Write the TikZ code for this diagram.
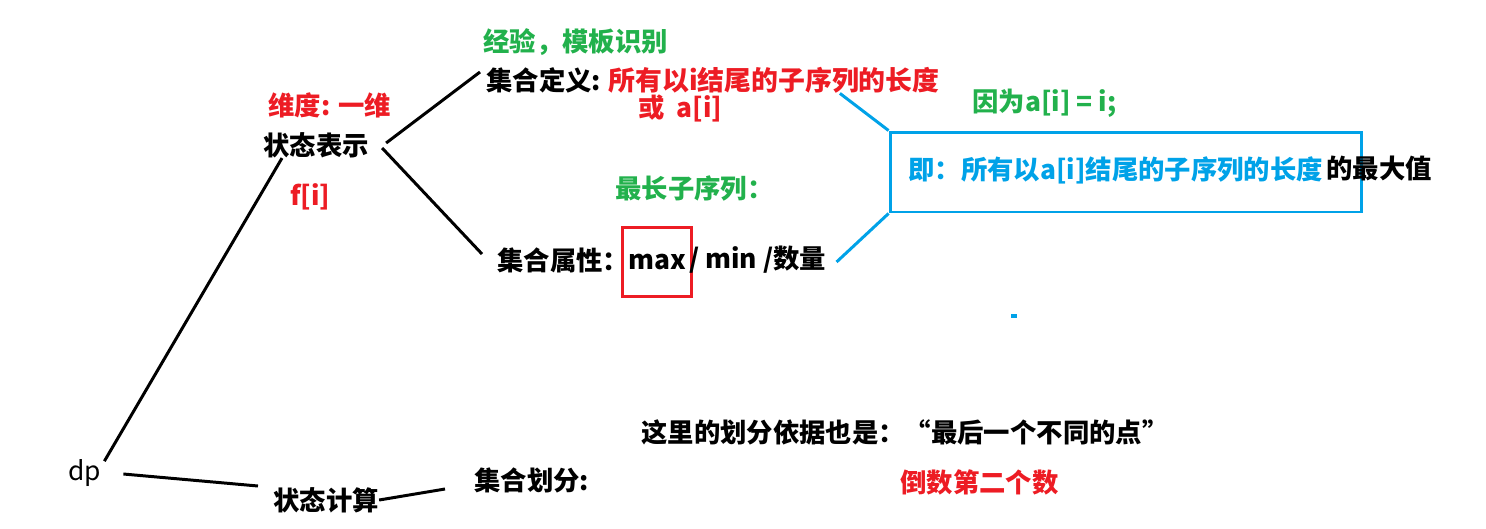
\documentclass[tikz,border=0pt]{standalone}
\usepackage{fontspec}
\newfontfamily\cjk{Noto Sans CJK SC}
\definecolor{pred}{RGB}{237,28,36}
\definecolor{pgreen}{RGB}{34,177,76}
\definecolor{pblue}{RGB}{0,162,232}

\begin{document}
\begin{tikzpicture}[x=0.02cm, y=-0.02cm,
  txt/.style={inner sep=0pt, anchor=west, font=\cjk\bfseries\fontsize{15pt}{18pt}\selectfont},
  stroke/.style={line width=1.7pt},
  bstroke/.style={line width=1.7pt, color=pblue}]
  \useasboundingbox (0,0) rectangle (1486,528);
  % state representation
  \node[txt] (repr) at (263,145) {状态表示};
  \node[txt, pred] (dim) at (268,105) {维度: 一维};
  \node[txt, pred] (fi) at (290,197) {f[i]};
  \node[txt, pgreen] (exp) at (483,42) {经验，模板识别};
  \node[txt] (def) at (486,80) {集合定义:};
  \node[txt, pred, font=\cjk\bfseries\fontsize{15.3pt}{18pt}\selectfont] (defv) at (608,80) {所有以i结尾的子序列的长度};
  \node[txt, pred] (defor) at (638,108) {或~~a[i]};
  \node[txt, pgreen] (lis) at (615,188) {最长子序列：};
  \node[txt, pgreen] (because) at (972,103) {因为a[i] = i;};
  \node[txt] (attr) at (497,260) {集合属性：};
  \node[draw=pred, line width=1.4pt, minimum width=1.38cm, minimum height=1.38cm, inner sep=0pt,
        font=\cjk\bfseries\fontsize{15pt}{18pt}\selectfont] (max) at (657,262) {max};
  \node[txt] (rest) at (689,260) {/ min /数量};
  \node[draw=pblue, line width=1.7pt, minimum width=9.44cm, minimum height=1.6cm] (box) at (1126,172) {};
  \node[txt, pblue] (boxtxt) at (908,170) {即：所有以a[i]结尾的子序列的长度};
  \node[txt] (maxval) at (1326,168) {的最大值};
  % state computation
  \node[txt, font=\cjk\fontsize{15pt}{18pt}\selectfont] (dp) at (68,473) {dp};
  \node[txt] (calc) at (273,500) {状态计算};
  \node[txt] (part) at (474,480) {集合划分:};
  \node[txt] (basis) at (641,432) {这里的划分依据也是：“最后一个不同的点”};
  \node[txt, pred] (second) at (900,482) {倒数第二个数};
  \fill[pblue] (1011,314) rectangle (1017,318);
  % connectors
  \draw[stroke] ([shift={(17,-2)}]repr.east) -- ([shift={(-6,-8)}]def.west);
  \draw[stroke] ([shift={(13,3)}]repr.east) -- ([shift={(-15,-6)}]attr.west);
  \draw[stroke] ([shift={(3,2)}]dp.north east) -- ([shift={(19,0)}]repr.south west);
  \draw[stroke] ([shift={(22,1)}]dp.east) -- ([shift={(-15,-14)}]calc.west);
  \draw[stroke] (calc.east) -- ([shift={(-29,9)}]part.west);
  \draw[bstroke] ([shift={(-100,0)}]defv.south east) -- (box.north west);
  \draw[bstroke] ([shift={(10,2)}]rest.east) -- (box.south west);
\end{tikzpicture}
\end{document}
